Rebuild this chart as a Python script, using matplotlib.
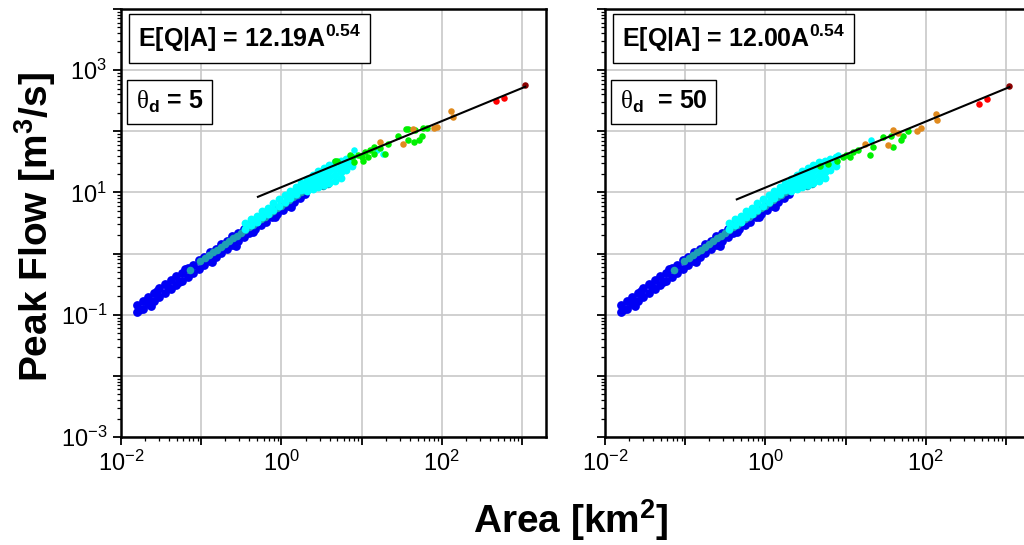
import numpy as np
import matplotlib
matplotlib.use('Agg')
import matplotlib.pyplot as plt
from matplotlib.ticker import LogLocator, NullFormatter

plt.rcParams['font.family'] = ['Liberation Sans', 'DejaVu Sans']
plt.rcParams['mathtext.fontset'] = 'custom'
plt.rcParams['mathtext.rm'] = 'Liberation Serif'
plt.rcParams['mathtext.bf'] = 'Liberation Sans:bold'

# log10 area [km2] / log10 peak flow [m3/s] of the small sub-basins (same cloud in both runs)
blue_logA = [-1.80, -1.80, -1.77, -1.73, -1.73, -1.66, -1.66, -1.62, -1.59, -1.59, -1.55,
             -1.52, -1.52, -1.45, -1.45, -1.42, -1.38, -1.38, -1.31, -1.31, -1.28, -1.24,
             -1.24, -1.20, -1.17, -1.17, -1.10, -1.10, -1.03, -1.03, -0.96, -0.96, -0.89,
             -0.89, -0.86, -0.82, -0.82, -0.75, -0.75, -0.68, -0.68, -0.61, -0.61, -0.57,
             -0.54, -0.54, -0.47, -0.47, -0.40, -0.40, -0.36, -0.33, -0.26, -0.19, -0.12,
             -0.08, -0.05, 0.02, 0.09, 0.12, 0.16, 0.23, 0.30]
blue_logQ = [-0.96, -0.84, -0.93, -0.90, -0.77, -0.83, -0.71, -0.86, -0.77, -0.64, -0.62,
             -0.71, -0.57, -0.64, -0.50, -0.55, -0.58, -0.44, -0.51, -0.37, -0.47, -0.45,
             -0.31, -0.26, -0.38, -0.24, -0.32, -0.18, -0.25, -0.11, -0.19, -0.05, -0.12,
             0.02, -0.13, -0.06, 0.08, 0.01, 0.15, 0.07, 0.21, 0.14, 0.28, 0.13,
             0.20, 0.34, 0.27, 0.41, 0.33, 0.47, 0.36, 0.40, 0.46, 0.52, 0.59,
             0.60, 0.65, 0.71, 0.78, 0.76, 0.84, 0.91, 0.97]

teal_logA = [-1.14, -1.02, -0.95, -0.90, -0.85, -0.80, -0.75, -0.70, -0.65, -0.60, -0.55,
             -0.50, -0.45, -0.40, -0.35, -0.30, -0.25, -0.20, -0.15, -0.10, -0.05, 0.00,
             0.05, 0.10, 0.15, 0.20, 0.25, 0.30, 0.38, 0.45, 0.52, 0.58]
teal_logQ = [-0.27, -0.12, -0.08, -0.02, 0.02, 0.06, 0.11, 0.16, 0.21, 0.25, 0.29,
             0.33, 0.38, 0.43, 0.47, 0.52, 0.56, 0.60, 0.65, 0.69, 0.74, 0.78,
             0.83, 0.87, 0.92, 0.96, 1.01, 1.05, 1.08, 1.10, 1.11, 1.14]

cyan_logA = [-0.45, -0.45, -0.38, -0.38, -0.31, -0.31, -0.24, -0.24, -0.17, -0.17, -0.10,
             -0.10, -0.03, -0.03, 0.04, 0.04, 0.11, 0.11, 0.11, 0.18, 0.18, 0.18, 0.25,
             0.25, 0.25, 0.32, 0.32, 0.32, 0.32, 0.39, 0.39, 0.39, 0.39, 0.46, 0.46,
             0.46, 0.46, 0.53, 0.53, 0.53, 0.53, 0.60, 0.60, 0.60, 0.60, 0.67, 0.67,
             0.67, 0.67, 0.74, 0.74, 0.74, 0.74, 0.81, 0.81, 0.81, 0.88, 0.88, 0.88]
cyan_logQ = [0.40, 0.50, 0.46, 0.56, 0.52, 0.62, 0.59, 0.69, 0.65, 0.75, 0.71,
             0.82, 0.78, 0.89, 0.84, 0.96, 0.91, 0.97, 1.03, 0.97, 1.03, 1.09, 1.04,
             1.10, 1.16, 1.03, 1.09, 1.15, 1.22, 1.06, 1.13, 1.21, 1.29, 1.09, 1.17,
             1.26, 1.35, 1.12, 1.21, 1.30, 1.40, 1.15, 1.25, 1.35, 1.45, 1.19, 1.29,
             1.39, 1.49, 1.24, 1.33, 1.43, 1.52, 1.37, 1.46, 1.55, 1.44, 1.51, 1.58]

# larger basins, theta_d = 5
cyan5_logA = [0.90, 1.19, 1.27]
cyan5_logQ = [1.69, 1.69, 1.63]
green5_logA = [0.67, 0.69, 0.855, 0.88, 0.90, 0.96, 1.00, 1.02, 1.04, 1.08, 1.10, 1.15, 1.15,
               1.23, 1.29, 1.33, 1.46, 1.56, 1.58, 1.58, 1.65, 1.67, 1.71, 1.75, 1.77, 1.81]
green5_logQ = [1.52, 1.51, 1.61, 1.58, 1.50, 1.61, 1.58, 1.52, 1.66, 1.58, 1.69, 1.63, 1.74,
               1.73, 1.63, 1.80, 1.92, 2.04, 2.04, 1.85, 1.83, 2.02, 1.85, 1.93, 2.05, 2.05]
orange5_logA = [1.23, 1.52, 1.645, 1.90, 1.94, 2.12, 2.14]
orange5_logQ = [1.82, 1.79, 2.03, 2.05, 2.07, 2.33, 2.23]
red5_logA = [2.68, 2.77]
red5_logQ = [2.49, 2.55]
darkred5_logA = [3.04]
darkred5_logQ = [2.76]

# larger basins, theta_d = 50
cyan50_logA = [0.80, 0.91, 1.32]
cyan50_logQ = [1.55, 1.61, 1.85]
green50_logA = [0.68, 0.78, 0.89, 0.97, 1.00, 1.05, 1.09, 1.15, 1.30, 1.34, 1.47, 1.57, 1.59,
                1.69, 1.72, 1.78]
green50_logQ = [1.43, 1.47, 1.52, 1.58, 1.62, 1.58, 1.66, 1.70, 1.61, 1.75, 1.90, 1.93, 1.74,
                1.85, 1.92, 2.00]
orange50_logA = [1.24, 1.53, 1.59, 1.65, 1.89, 1.94, 2.13, 2.14]
orange50_logQ = [1.79, 1.77, 2.02, 1.97, 2.00, 2.05, 2.29, 2.19]
red50_logA = [2.67, 2.76]
red50_logQ = [2.45, 2.52]
darkred50_logA = [3.04]
darkred50_logQ = [2.74]

# power-law fits E[Q|A] = c * A^theta and the area span they are drawn over
fit_coef = [12.19, 12.00]
fit_exp = [0.54, 0.54]
fit_area = [[0.51, 1100.0], [0.44, 1100.0]]
theta_d = ['5', '50']

fig = plt.figure(figsize=(10.24, 5.45), dpi=100)
ax_l = fig.add_axes([121 / 1024, 1 - 437 / 545, 425 / 1024, 428 / 545])
ax_r = fig.add_axes([605 / 1024, 1 - 437 / 545, 425 / 1024, 428 / 545])

panels = [
    (ax_l, cyan5_logA, cyan5_logQ, green5_logA, green5_logQ, orange5_logA, orange5_logQ,
     red5_logA, red5_logQ, darkred5_logA, darkred5_logQ),
    (ax_r, cyan50_logA, cyan50_logQ, green50_logA, green50_logQ, orange50_logA, orange50_logQ,
     red50_logA, red50_logQ, darkred50_logA, darkred50_logQ),
]


def p10(v):
    return 10.0 ** np.asarray(v)


def sci(e):
    return r'$\mathregular{10^{%d}}$' % e


for i, (ax, cA, cQ, gA, gQ, oA, oQ, rA, rQ, dA, dQ) in enumerate(panels):
    ax.scatter(p10(blue_logA), p10(blue_logQ), s=40, c='#0000f5', lw=0, zorder=2)
    ax.scatter(p10(teal_logA), p10(teal_logQ), s=30, c='#1f9fb4', lw=0, zorder=3)
    ax.scatter(p10(cyan_logA), p10(cyan_logQ), s=32, c='#00ffff', lw=0, zorder=3)
    ax.scatter(p10(cA), p10(cQ), s=22, c='#00ffff', lw=0, zorder=4)
    ax.scatter(p10(gA), p10(gQ), s=22, c='#00f000', lw=0, zorder=4)
    ax.scatter(p10(oA), p10(oQ), s=22, c='#e08a1e', lw=0, zorder=4)
    ax.scatter(p10(rA), p10(rQ), s=22, c='#ff0000', lw=0, zorder=4)
    ax.scatter(p10(dA), p10(dQ), s=22, c='#8b0000', lw=0, zorder=4)

    a = np.array(fit_area[i])
    ax.plot(a, fit_coef[i] * a ** fit_exp[i], color='black', lw=1.5, zorder=5)

    ax.set_xscale('log')
    ax.set_yscale('log')
    ax.set_xlim(1e-2, 10 ** 3.3)
    ax.set_ylim(1e-3, 1e4)

    xe = np.arange(-2, 4)
    ye = np.arange(-3, 5)
    ax.set_xticks(10.0 ** xe, labels=[sci(e) if e % 2 == 0 else '' for e in xe], fontsize=17)
    if i == 0:
        ax.set_yticks(10.0 ** ye, labels=[sci(e) if e % 2 else '' for e in ye], fontsize=17)
    else:
        ax.set_yticks(10.0 ** ye, labels=['' for e in ye])
    ax.xaxis.set_minor_locator(LogLocator(base=10, subs=np.arange(2, 10), numticks=20))
    ax.yaxis.set_minor_locator(LogLocator(base=10, subs=np.arange(2, 10), numticks=20))
    ax.xaxis.set_minor_formatter(NullFormatter())
    ax.yaxis.set_minor_formatter(NullFormatter())
    ax.tick_params(which='major', direction='out', length=6, width=1.3, pad=4)
    ax.tick_params(which='minor', direction='out', length=3, width=0.9)

    ax.grid(True, which='major', color='#c8c8c8', lw=1.2)
    ax.set_axisbelow(True)
    for sp in ax.spines.values():
        sp.set_linewidth(1.8)

    box = dict(boxstyle='square,pad=0.35', fc='white', ec='black', lw=1.0)
    ax.text(0.04, 0.932, r'E[Q|A] = %.2fA$\mathregular{^{%.2f}}$' % (fit_coef[i], fit_exp[i]),
            transform=ax.transAxes, ha='left', va='center', fontsize=18,
            fontweight='bold', bbox=box, zorder=6)
    gap = ' ' if i == 0 else '  '
    ax.text(0.035, 0.782, r'$\mathrm{\theta}_{\mathbf{d}}$' + gap + '= ' + theta_d[i],
            transform=ax.transAxes, ha='left', va='center', fontsize=18,
            fontweight='bold', bbox=box, zorder=6)

fig.text(0.034, 0.584, r'Peak Flow [m$\mathregular{^3}$/s]', rotation=90, fontsize=28,
         fontweight='bold', ha='center', va='center')
fig.text(0.557, 0.045, r'Area [km$\mathregular{^2}$]', fontsize=28,
         fontweight='bold', ha='center', va='center')

fig.savefig('out.png', dpi=100)
